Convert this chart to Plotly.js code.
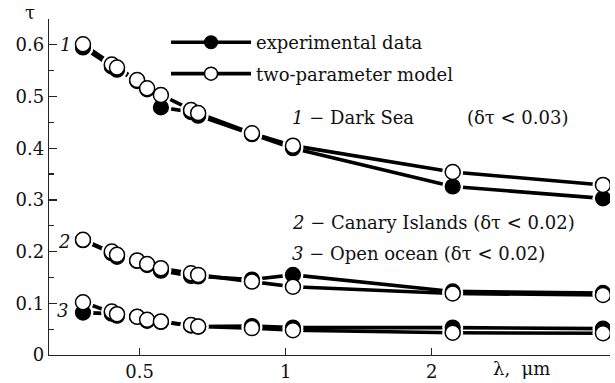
<!DOCTYPE html>
<html>
<head>
<meta charset="utf-8">
<script src="https://cdn.plot.ly/plotly-3.0.1.min.js"></script>
<style>html,body{margin:0;padding:0;background:#fff;}#chart{width:615px;height:383px;}</style>
</head>
<body>
<div id="chart"></div>
<script>
// wavelength, um
const lambda = [0.382, 0.438, 0.449, 0.494, 0.518, 0.553, 0.638, 0.660, 0.852, 1.035, 2.21, 4.51];
// 1 - Dark Sea
const darkSeaModel = [0.601, 0.562, 0.556, 0.532, 0.516, 0.503, 0.474, 0.468, 0.429, 0.405, 0.354, 0.329];
const darkSeaExp   = [0.595, 0.558, 0.552, 0.530, 0.514, 0.479, 0.470, 0.463, 0.427, 0.400, 0.326, 0.303];
// 2 - Canary Islands
const canaryModel  = [0.223, 0.200, 0.194, 0.183, 0.176, 0.168, 0.158, 0.155, 0.142, 0.132, 0.119, 0.116];
const canaryExp    = [0.222, 0.197, 0.190, 0.182, 0.174, 0.163, 0.153, 0.152, 0.146, 0.155, 0.123, 0.120];
// 3 - Open ocean
const oceanModel   = [0.102, 0.084, 0.079, 0.074, 0.068, 0.065, 0.058, 0.055, 0.052, 0.048, 0.043, 0.042];
const oceanExp     = [0.082, 0.080, 0.076, 0.074, 0.066, 0.064, 0.057, 0.055, 0.056, 0.053, 0.053, 0.051];

const xTickVals = [0.5, 1, 2];
const xTickText = ['0.5', '1', '2'];
const legendNames = ['experimental data', 'two-parameter model'];

const FONT = 'DejaVu Serif';
const FS = 18;
const expSeries = [darkSeaExp, canaryExp, oceanExp];
const modSeries = [darkSeaModel, canaryModel, oceanModel];

const traces = [];
[...expSeries, ...modSeries].forEach(y => traces.push({
  x: lambda, y: y, type: 'scatter', mode: 'lines',
  line: {color: '#000', width: 3.6}, showlegend: false, hoverinfo: 'skip'
}));
[...expSeries, ...modSeries].forEach(y => traces.push({
  x: lambda, y: y, type: 'scatter', mode: 'markers',
  marker: {color: '#fff', size: 21, line: {width: 0}}, showlegend: false, hoverinfo: 'skip'
}));
expSeries.forEach(y => traces.push({
  x: lambda, y: y, type: 'scatter', mode: 'markers',
  marker: {color: '#000', size: 15, line: {color: '#000', width: 1.2}}, showlegend: false
}));
modSeries.forEach(y => traces.push({
  x: lambda, y: y, type: 'scatter', mode: 'markers',
  marker: {color: '#fff', size: 15, line: {color: '#000', width: 1.5}}, showlegend: false
}));
traces.push({x: [null], y: [null], type: 'scatter', mode: 'lines+markers', name: legendNames[0],
  legendgroup: 'a', line: {color: '#000', width: 3.6},
  marker: {color: '#000', size: 13, line: {color: '#000', width: 1.2}}});
traces.push({x: [null], y: [null], type: 'scatter', mode: 'lines+markers', name: legendNames[1],
  legendgroup: 'b', line: {color: '#000', width: 3.6},
  marker: {color: '#fff', size: 13, line: {color: '#000', width: 1.5}}});

const ann = (text, x, y, xref, yref, xanchor) => ({
  text: text, x: x, y: y, xref: xref, yref: yref, xanchor: xanchor, yanchor: 'middle',
  showarrow: false, font: {family: FONT, size: FS, color: '#111'}
});

const layout = {
  width: 615, height: 383,
  margin: {l: 49, r: 5, t: 19, b: 28},
  paper_bgcolor: '#fff', plot_bgcolor: '#fff',
  font: {family: FONT, size: FS, color: '#111'},
  showlegend: true,
  legend: {x: 0.2086, y: 0.985, xanchor: 'left', yanchor: 'top', bgcolor: 'rgba(0,0,0,0)',
    font: {family: FONT, size: FS, color: '#111'}, tracegroupgap: 5, traceorder: 'grouped', itemwidth: 80},
  xaxis: {
    type: 'log', range: [-0.488, 0.6687],
    tickvals: xTickVals, ticktext: xTickText,
    ticks: 'inside', ticklen: 7, tickcolor: '#222', tickwidth: 1.2,
    showline: true, linecolor: '#222', linewidth: 1.3,
    showgrid: false, zeroline: false,
    tickfont: {family: FONT, size: FS, color: '#111'}
  },
  yaxis: {
    range: [0, 0.65], dtick: 0.1, tick0: 0,
    ticks: 'inside', ticklen: 8, tickcolor: '#222', tickwidth: 1.2,
    minor: {dtick: 0.05, ticks: 'inside', ticklen: 5, tickcolor: '#222', tickwidth: 1.2},
    showline: true, linecolor: '#222', linewidth: 1.3,
    showgrid: false, zeroline: false,
    tickfont: {family: FONT, size: FS, color: '#111'}
  },
  annotations: [
    ann('τ', -0.034, 1.018, 'paper', 'paper', 'center'),
    ann('λ,  μm', 0.843, -0.039, 'paper', 'paper', 'center'),
    ann('<i>1</i>', 0.030, 0.600, 'paper', 'y', 'center'),
    ann('<i>2</i>', 0.026, 0.219, 'paper', 'y', 'center'),
    ann('<i>3</i>', 0.024, 0.087, 'paper', 'y', 'center'),
    ann('<i>1</i> − Dark Sea', 0.4296, 0.459, 'paper', 'y', 'left'),
    ann('(δτ < 0.03)', 0.7415, 0.459, 'paper', 'y', 'left'),
    ann('<i>2</i> − Canary Islands (δτ < 0.02)', 0.4296, 0.257, 'paper', 'y', 'left'),
    ann('<i>3</i> − Open ocean (δτ < 0.02)', 0.4296, 0.197, 'paper', 'y', 'left')
  ]
};

Plotly.newPlot('chart', traces, layout, {displayModeBar: false, staticPlot: true});
</script>
</body>
</html>
